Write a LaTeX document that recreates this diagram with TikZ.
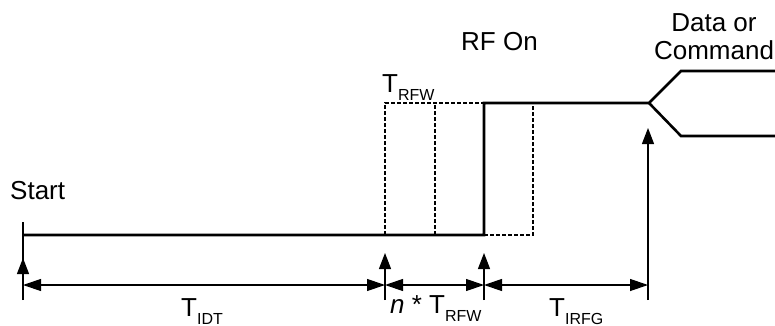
\documentclass[tikz,border=0pt]{standalone}
\usepackage{fontspec}
\setmainfont{Liberation Sans}
\usetikzlibrary{arrows.meta}
\newcommand{\mysub}[1]{\raisebox{-8pt}{\fontsize{16}{16}\selectfont #1}}
\begin{document}
\begin{tikzpicture}[x=1pt,y=-1pt,
  wave/.style={line width=2.6pt,line join=miter},
  dashwave/.style={line width=1.1pt,dash pattern=on 4pt off 2pt},
  thinline/.style={line width=1.2pt},
  uparrow/.style={line width=1.2pt,-{Triangle[length=16pt,width=12pt]}},
  dimarrow/.style={line width=1.2pt,{Triangle[length=18pt,width=12pt]}-{Triangle[length=18pt,width=12pt]}},
  lbl/.style={inner sep=0pt,font=\fontsize{26}{30}\selectfont}]
\useasboundingbox (0,0) rectangle (775,326);
% waveform coordinates
\coordinate (s0) at (23,235);
\coordinate (b1) at (385,235);
\coordinate (b2) at (435,235);
\coordinate (b3) at (484,235);
\coordinate (b4) at (533,235);
\coordinate (t1) at (385,103);
\coordinate (t2) at (435,103);
\coordinate (t3) at (484,103);
\coordinate (t4) at (533,103);
\coordinate (sp) at (649,103);
\coordinate (u1) at (681,71);
\coordinate (u2) at (776,71);
\coordinate (l1) at (681,136);
\coordinate (l2) at (776,136);
% dashed alternatives
\draw[dashwave] (b1) -- (t1) -- (t3);
\draw[dashwave] (b2) -- (t2);
\draw[dashwave] (b3) -- (b4) -- (t4);
% main waveform
\draw[wave] (s0) -- (b3) -- (t3) -- (sp) -- (u1) -- (u2);
\draw[wave] (sp) -- (l1) -- (l2);
% markers
\coordinate (m0top) at (23,222);
\coordinate (m0) at (23,300);
\coordinate (m0tip) at (23,258);
\coordinate (m1) at (385,300);
\coordinate (m1tip) at (385,253);
\coordinate (m2) at (484,300);
\coordinate (m2tip) at (484,253);
\coordinate (m3) at (648,300);
\coordinate (m3tip) at (648,128);
\draw[thinline] (m0top) -- (m0);
\draw[uparrow] (m0) -- (m0tip);
\draw[uparrow] (m1) -- (m1tip);
\draw[uparrow] (m2) -- (m2tip);
\draw[uparrow] (m3) -- (m3tip);
% dimension lines
\coordinate (d0) at (23,285);
\coordinate (d1) at (385,285);
\coordinate (d2) at (484,285);
\coordinate (d3) at (648,285);
\draw[dimarrow] (d0) -- (d1);
\draw[dimarrow] (d1) -- (d2);
\draw[dimarrow] (d2) -- (d3);
% labels
\node[lbl,anchor=base west] (start) at (10,199) {Start};
\node[lbl,anchor=base west] (rfon) at (461,51) {RF On};
\node[lbl,anchor=base west] (trfw) at (382,93) {T\mysub{RFW}};
\node[lbl,anchor=base] (data) at (714,32) {Data or};
\node[lbl,anchor=base] (cmd) at (714,60) {Command};
\node[lbl,anchor=base west] (tidt) at (181,316) {T\mysub{IDT}};
\node[lbl,anchor=base west] (ntrfw) at (390,313) {\textit{n} * T\mysub{RFW}};
\node[lbl,anchor=base west] (tirfg) at (549,316) {T\mysub{IRFG}};
\end{tikzpicture}
\end{document}
